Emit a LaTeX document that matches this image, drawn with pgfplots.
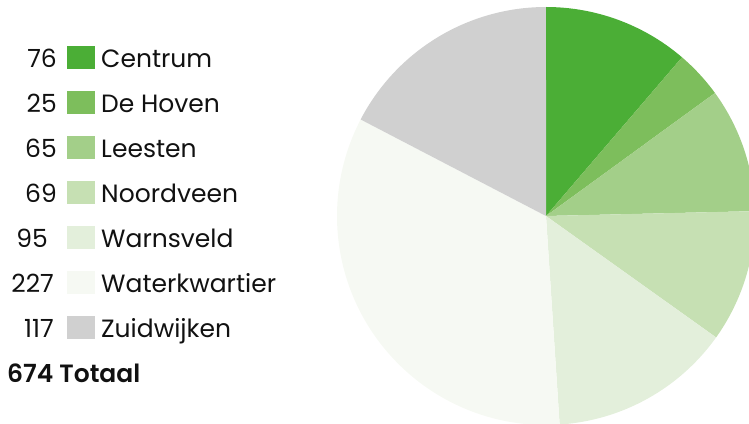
\documentclass[border=0pt]{standalone}
\usepackage{pgfplots}
\usepackage{pgfplotstable}
\pgfplotsset{compat=1.18}
\usepackage{fontspec}
\setmainfont{Poppins}[BoldFont={Poppins SemiBold}]
\newcommand\lf{\fontsize{25}{29}\selectfont}
\definecolor{c1}{HTML}{4BAE36}
\definecolor{c2}{HTML}{7DBE5C}
\definecolor{c3}{HTML}{A3CF89}
\definecolor{c4}{HTML}{C6E0B3}
\definecolor{c5}{HTML}{E3EFDB}
\definecolor{c6}{HTML}{F6F9F3}
\definecolor{c7}{HTML}{D0D0D0}
\definecolor{txt}{HTML}{111111}
\pgfplotstableread[col sep=comma]{
name,value,numx,col
Centrum,76,57,c1
De Hoven,25,57,c2
Leesten,65,57,c3
Noordveen,69,57,c4
Warnsveld,95,48,c5
Waterkwartier,227,54,c6
Zuidwijken,117,54,c7
}\data
\begin{document}
\begin{tikzpicture}
\begin{axis}[x=1pt,y=1pt,xmin=0,xmax=749,ymin=0,ymax=423,hide axis,clip=true]
\addplot[draw=none] coordinates {(0,0) (749,423)};
\xdef\cum{0}
\pgfplotsinvokeforeach{0,...,6}{
  \pgfplotstablegetelem{#1}{value}\of\data \let\v\pgfplotsretval
  \pgfplotstablegetelem{#1}{col}\of\data \let\c\pgfplotsretval
  \pgfplotstablegetelem{#1}{name}\of\data \let\n\pgfplotsretval
  \pgfplotstablegetelem{#1}{numx}\of\data \let\nx\pgfplotsretval
  \pgfmathsetmacro\sa{90-(360/674)*\cum}
  \pgfmathsetmacro\cumnew{\cum+\v}
  \pgfmathsetmacro\ea{90-(360/674)*\cumnew}
  \xdef\cum{\cumnew}
  \pgfmathsetmacro\yb{423-67.5-45*#1}
  \pgfmathsetmacro\yt{423-46-45*#1}
  \pgfmathsetmacro\ybot{423-69-45*#1}
  \edef\temp{\noexpand\fill[\c] (axis cs:546,207) -- ([shift={(\sa:209pt)}]axis cs:546,207) arc[start angle=\sa, end angle=\ea, radius=209pt] -- cycle;
    \noexpand\fill[\c] (axis cs:67,\yt) rectangle (axis cs:95,\ybot);
    \noexpand\node[anchor=base east,inner sep=0pt,text=txt,font=\noexpand\lf] at (axis cs:\nx,\yb) {\v};
    \noexpand\node[anchor=base west,inner sep=0pt,text=txt,font=\noexpand\lf] at (axis cs:101,\yb) {\n};}
  \temp
}
\node[anchor=base west,inner sep=0pt,text=txt,font=\fontsize{25}{29}\selectfont\bfseries] at (axis cs:7,{423-382.5}) {674 Totaal};
\end{axis}
\end{tikzpicture}
\end{document}
